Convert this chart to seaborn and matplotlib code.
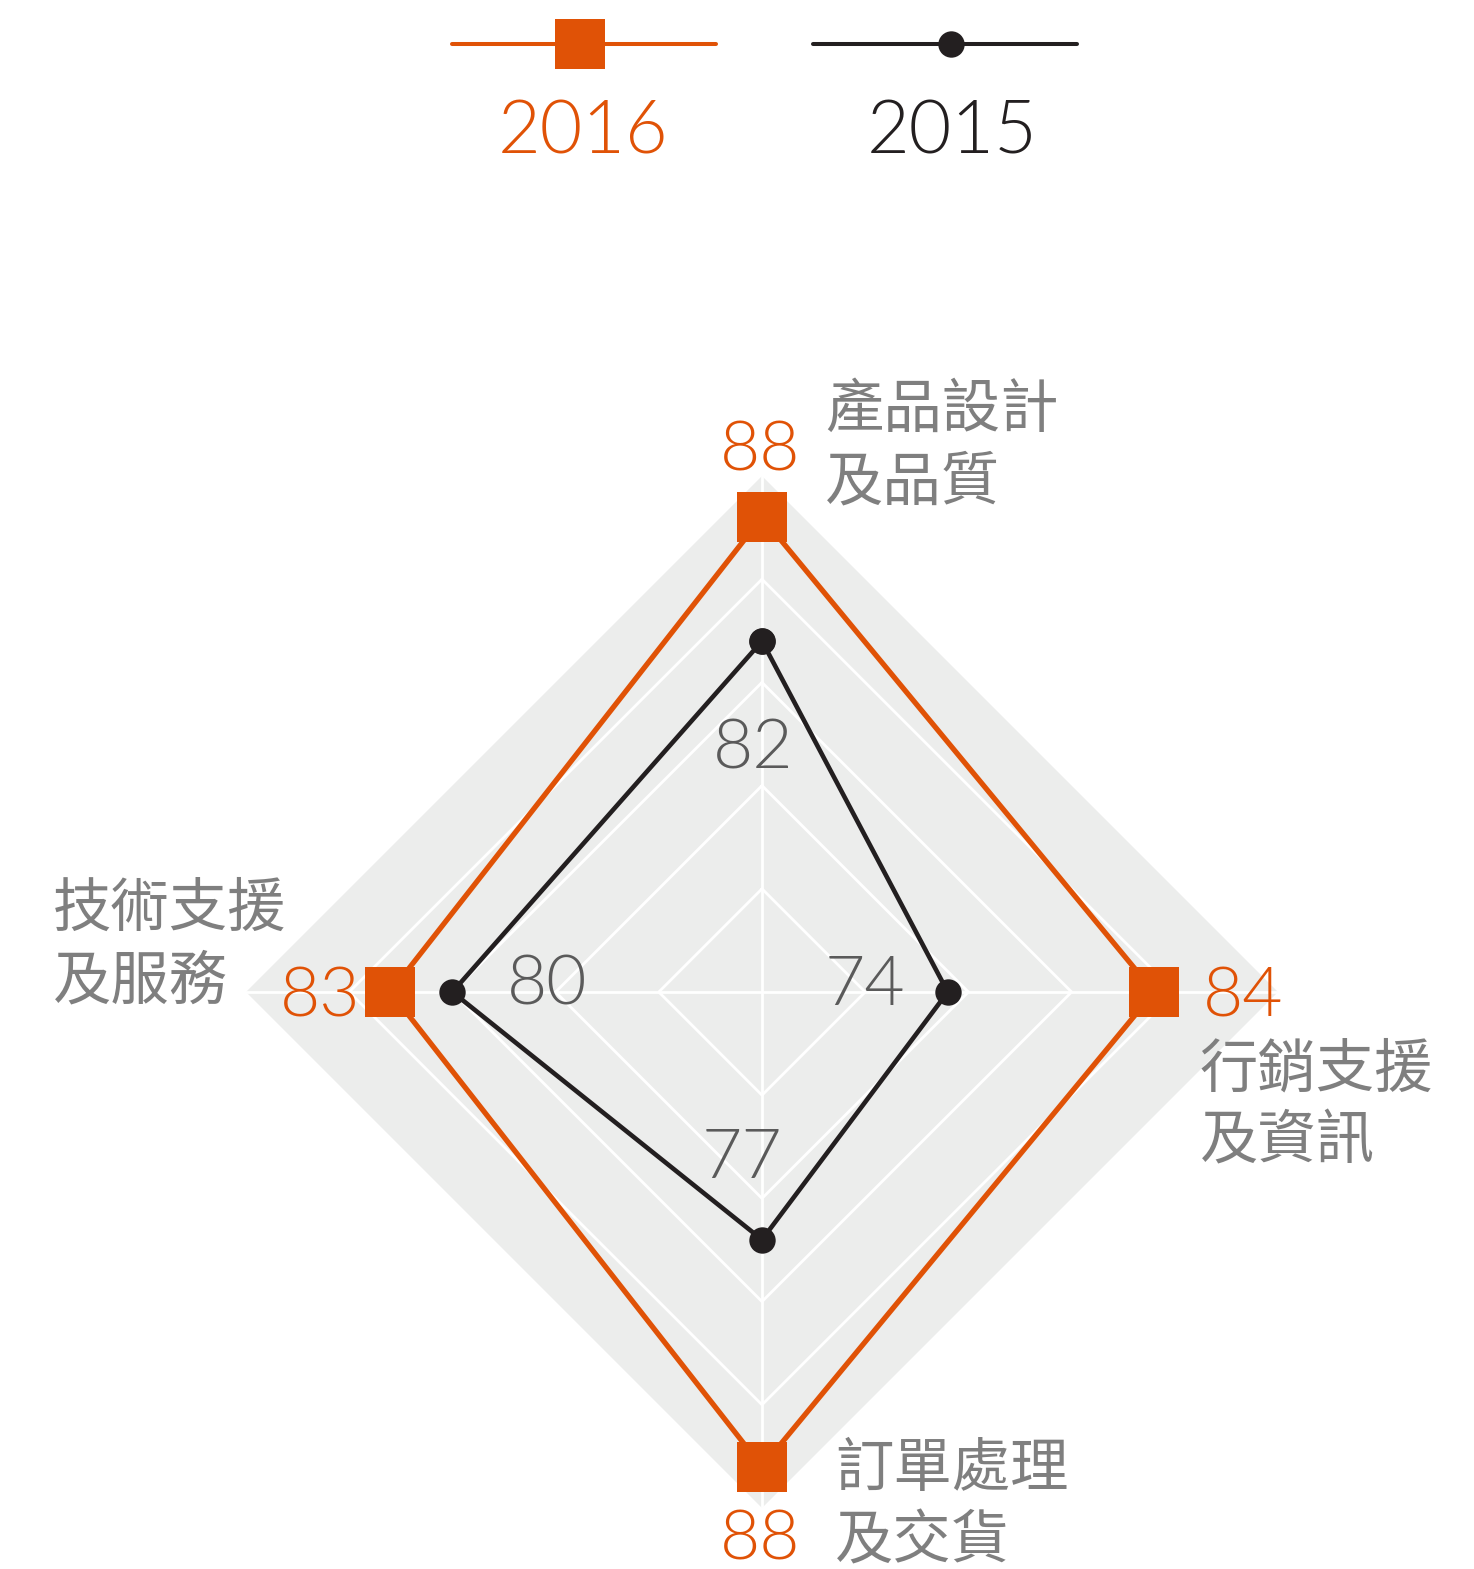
import numpy as np
import matplotlib
matplotlib.use('Agg')
import matplotlib.pyplot as plt
import seaborn as sns
from matplotlib.lines import Line2D

# ---- data ----
categories = ['產品設計\n及品質', '行銷支援\n及資訊', '訂單處理\n及交貨', '技術支援\n及服務']
values_2016 = [88, 84, 88, 83]
values_2015 = [82, 74, 77, 80]
series_names = ['2016', '2015']
r_min, r_max = 65, 90
grid_levels = [70, 75, 80, 85]

ORANGE = '#E05206'
BLACK = '#231F20'
FILL = '#ECEDEC'
CAT_GRAY = '#7F7F7F'
NUM_GRAY = '#5A5A5A'

sns.set_theme(style='white')
plt.rcParams['font.family'] = ['Lato', 'DejaVu Sans']
NUM_FONT = dict(family=['Lato', 'DejaVu Sans'], weight=300)
CJK_FONT = dict(family=['Noto Sans CJK TC', 'DejaVu Sans'])

W, H = 1474, 1569
fig = plt.figure(figsize=(W / 100, H / 100), dpi=100)
fig.patch.set_facecolor('white')

cx, cy, R = 762, 992, 516
ax = fig.add_axes([(cx - R) / W, (H - cy - R) / H, 2 * R / W, 2 * R / H], projection='polar')
ax.set_theta_zero_location('N')
ax.set_theta_direction(-1)

n = len(categories)
theta = np.arange(n) * 2 * np.pi / n
theta_c = np.append(theta, 2 * np.pi)

# background diamond
ax.fill(theta_c, [r_max] * (n + 1), color=FILL, zorder=0, lw=0)
# grid diamonds
for lv in grid_levels:
    ax.plot(theta_c, [lv] * (n + 1), color='white', lw=2, zorder=1)
for t in theta:
    ax.plot([t, t], [r_min, r_max], color='white', lw=2, zorder=1)

v16 = np.append(values_2016, values_2016[0])
v15 = np.append(values_2015, values_2015[0])
sns.lineplot(x=theta_c, y=v16, sort=False, estimator=None, ax=ax, color=ORANGE,
             lw=3.8, marker='s', markersize=36, markeredgewidth=0, zorder=3)
sns.lineplot(x=theta_c, y=v15, sort=False, estimator=None, ax=ax, color=BLACK,
             lw=3.3, marker='o', markersize=19, markeredgewidth=0, zorder=4)

ax.set_ylim(r_min, r_max)
ax.grid(False)
ax.set_xticks([])
ax.set_yticks([])
ax.set_xlabel('')
ax.set_ylabel('')
ax.spines['polar'].set_visible(False)
ax.set_facecolor('none')

NUM_SIZE = 50
# value labels (2016, orange)
off16 = [(-2, 47, 'center'), (49, -25, 'left'), (-2, -93, 'center'), (-30, -25, 'right')]
for t, v, (dx, dy, ha) in zip(theta, values_2016, off16):
    ax.annotate(str(v), xy=(t, v), xytext=(dx, dy), textcoords='offset pixels',
                ha=ha, va='baseline', color=ORANGE, fontsize=NUM_SIZE, zorder=6,
                annotation_clip=False, **NUM_FONT)

# value labels (2015, gray)
off15 = [(-9, -127), (-83, -13), (-20, 62), (95, -13)]
for t, v, (dx, dy) in zip(theta, values_2015, off15):
    ax.annotate(str(v), xy=(t, v), xytext=(dx, dy), textcoords='offset pixels',
                ha='center', va='baseline', color=NUM_GRAY, fontsize=NUM_SIZE, zorder=6,
                **NUM_FONT)

# category labels
offc = [(63, 29), (-78, -114), (73, 2), (-193, 46)]
for t, lab, (dx, dy) in zip(theta, categories, offc):
    ax.annotate(lab, xy=(t, r_max), xytext=(dx, dy), textcoords='offset pixels',
                ha='left', va='center', color=CAT_GRAY, fontsize=42, linespacing=1.25,
                annotation_clip=False, **CJK_FONT)

# legend
def fx(px):
    return px / W

def fy(py):
    return 1 - py / H

leg = [(series_names[0], ORANGE, 's', 36, 2.9, 452, 716, 580, 583),
       (series_names[1], BLACK, 'o', 19, 2.9, 813, 1077, 951, 952)]
for name, col, mk, ms, lw, x0, x1, xm, xt in leg:
    fig.add_artist(Line2D([fx(x0), fx(x1)], [fy(44), fy(44)], transform=fig.transFigure,
                          color=col, lw=lw))
    fig.add_artist(Line2D([fx(xm)], [fy(44)], transform=fig.transFigure, color=col,
                          marker=mk, markersize=ms, markeredgewidth=0, lw=0))
    fig.text(fx(xt), fy(153), name, ha='center', va='baseline',
             color=col, fontsize=53, **NUM_FONT)

fig.savefig('out.png', dpi=100, facecolor='white')
